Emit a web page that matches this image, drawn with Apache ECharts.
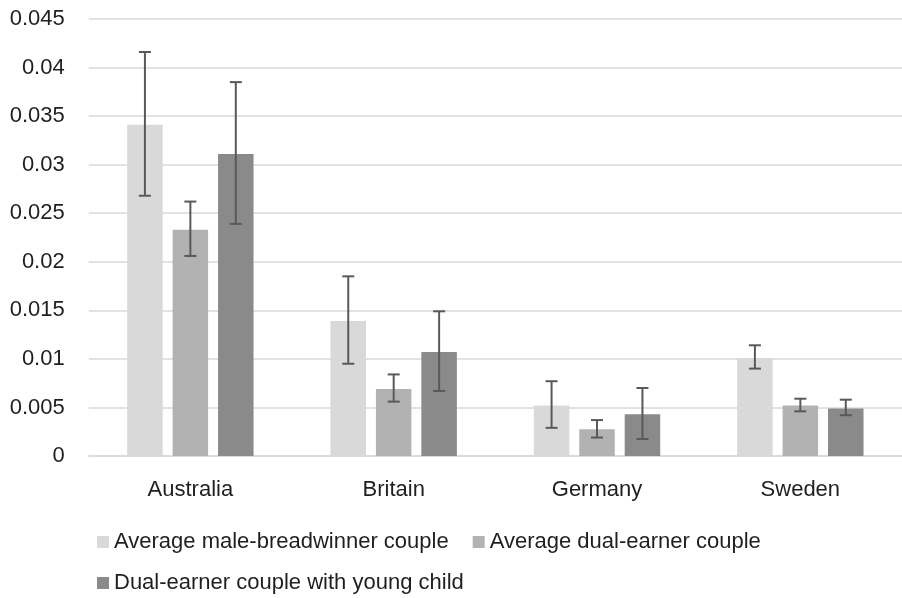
<!DOCTYPE html>
<html>
<head>
<meta charset="utf-8">
<script src="https://cdn.jsdelivr.net/npm/echarts@6/dist/echarts.min.js"></script>
<style>
html,body{margin:0;padding:0;background:#fff;}
#chart{width:902px;height:598px;}
</style>
</head>
<body>
<div id="chart"></div>
<script>
const categories = ['Australia', 'Britain', 'Germany', 'Sweden'];
const seriesNames = ['Average male-breadwinner couple', 'Average dual-earner couple', 'Dual-earner couple with young child'];
const maleBreadwinner = [0.0341, 0.0139, 0.0052, 0.0101];
const dualEarner = [0.0233, 0.0069, 0.00275, 0.0052];
const dualEarnerChild = [0.0311, 0.0107, 0.0043, 0.0049];
const maleBreadwinnerLow = [0.0268, 0.0095, 0.0029, 0.0090];
const maleBreadwinnerHigh = [0.0416, 0.0185, 0.0077, 0.0114];
const dualEarnerLow = [0.0206, 0.0056, 0.0019, 0.0046];
const dualEarnerHigh = [0.0262, 0.0084, 0.0037, 0.0059];
const dualEarnerChildLow = [0.0239, 0.0067, 0.00175, 0.0042];
const dualEarnerChildHigh = [0.0385, 0.0149, 0.0070, 0.0058];
const yTicks = { min: 0, max: 0.045, interval: 0.005 };

const colors = ['#d9d9d9', '#b2b2b2', '#8a8a8a'];
const BAR_W = 35.5, GAP_RATIO = 0.28;
const values = [maleBreadwinner, dualEarner, dualEarnerChild];
const lows = [maleBreadwinnerLow, dualEarnerLow, dualEarnerChildLow];
const highs = [maleBreadwinnerHigh, dualEarnerHigh, dualEarnerChildHigh];

const errData = [];
for (let s = 0; s < 3; s++) {
  for (let c = 0; c < categories.length; c++) {
    errData.push([c, lows[s][c], highs[s][c], s]);
  }
}

const font = '"Liberation Sans", Arial, sans-serif';
const chart = echarts.init(document.getElementById('chart'), null, { renderer: 'canvas' });
const legendText = { fontSize: 22, color: '#1f1f1f', fontFamily: font };
const option = {
  animation: false,
  backgroundColor: '#ffffff',
  textStyle: { fontFamily: font },
  grid: { left: 88.7, top: 19, width: 820, height: 437, containLabel: false },
  legend: [
    {
      data: [seriesNames[0], seriesNames[1]],
      left: 97, top: 531, itemWidth: 12, itemHeight: 12, itemGap: 24,
      padding: 0,
      icon: 'rect',
      textStyle: legendText
    },
    {
      data: [seriesNames[2]],
      left: 97, top: 572, itemWidth: 12, itemHeight: 12, itemGap: 24,
      padding: 0,
      icon: 'rect',
      textStyle: legendText
    }
  ],
  xAxis: {
    type: 'category',
    data: categories,
    axisLine: { show: true, lineStyle: { color: '#d9d9d9', width: 1.5 } },
    axisTick: { show: false },
    axisLabel: { fontSize: 22, color: '#1f1f1f', margin: 23, fontFamily: font }
  },
  yAxis: {
    type: 'value',
    min: yTicks.min, max: yTicks.max, interval: yTicks.interval,
    axisLine: { show: false },
    axisTick: { show: false },
    splitLine: { lineStyle: { color: '#d9d9d9', width: 1.5 } },
    axisLabel: { fontSize: 22, color: '#1f1f1f', margin: 24, fontFamily: font }
  },
  series: [
    ...values.map((v, i) => ({
      name: seriesNames[i],
      type: 'bar',
      data: v,
      barWidth: BAR_W,
      barGap: (GAP_RATIO * 100) + '%',
      itemStyle: { color: colors[i] },
      z: 2
    })),
    {
      type: 'custom',
      name: 'err',
      data: errData,
      z: 10,
      renderItem: function (params, api) {
        const c = api.value(0), lo = api.value(1), hi = api.value(2), s = api.value(3);
        const pLo = api.coord([c, lo]);
        const pHi = api.coord([c, hi]);
        const x = pLo[0] + (s - 1) * BAR_W * (1 + GAP_RATIO);
        const hw = 6;
        const st = { stroke: '#595959', lineWidth: 2 };
        return {
          type: 'group',
          children: [
            { type: 'line', shape: { x1: x, y1: pLo[1], x2: x, y2: pHi[1] }, style: st },
            { type: 'line', shape: { x1: x - hw, y1: pHi[1], x2: x + hw, y2: pHi[1] }, style: st },
            { type: 'line', shape: { x1: x - hw, y1: pLo[1], x2: x + hw, y2: pLo[1] }, style: st }
          ]
        };
      }
    }
  ]
};
chart.setOption(option);
</script>
</body>
</html>
